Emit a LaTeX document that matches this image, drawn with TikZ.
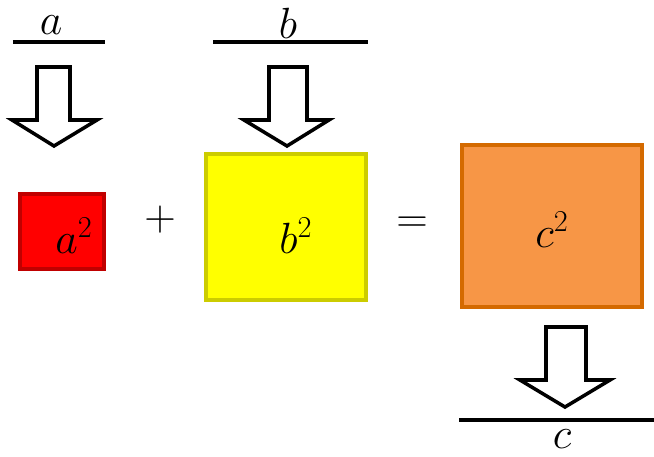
\documentclass[tikz,border=0pt]{standalone}
\usepackage{amsmath}
\usepackage{tikz}
\usetikzlibrary{positioning}
\definecolor{sqred}{RGB}{255,0,0}
\definecolor{sqredline}{RGB}{192,0,0}
\definecolor{sqyellow}{RGB}{255,255,0}
\definecolor{sqyellowline}{RGB}{204,204,0}
\definecolor{sqorange}{RGB}{247,150,70}
\definecolor{sqorangeline}{RGB}{212,106,0}
\tikzset{
  sidebar/.style={draw=black, line width=2.3pt},
  blockarrow/.style={draw=black, fill=white, line width=2pt, line join=miter},
  sqlabel/.style={inner sep=0pt, font=\fontsize{25}{30}\selectfont},
  oplabel/.style={inner sep=0pt, font=\fontsize{24}{28}\selectfont},
}

\begin{document}
\begin{tikzpicture}[x=0.02cm, y=-0.02cm]
  \useasboundingbox (0,0) rectangle (654,457);
  % side lengths
  \draw[sidebar] (13,42) -- (105,42);
  \node[sqlabel] (la) at (51,25) {$a$};
  \draw[sidebar] (213,42) -- (368,42);
  \node[sqlabel] (lb) at (288,23) {$b$};
  \draw[sidebar] (459,420) -- (654,420);
  \node[sqlabel] (lc) at (562,439) {$c$};
  % block arrows
  \draw[blockarrow] (37,67) -- (70,67) -- (70,120) -- (97,120) -- (54,146)
    -- (12,120) -- (37,120) -- cycle;
  \draw[blockarrow] (269,67) -- (307,67) -- (307,120) -- (329,120) -- (287,146)
    -- (244,120) -- (269,120) -- cycle;
  \draw[blockarrow] (546,327) -- (586,327) -- (586,380) -- (610,380) -- (565,407)
    -- (520,380) -- (546,380) -- cycle;
  % squares
  \draw[fill=sqred, draw=sqredline, line width=1.8pt] (20,194) rectangle (104,269);
  \node[sqlabel] (asq) at (74,236) {$a^2$};
  \draw[fill=sqyellow, draw=sqyellowline, line width=2.2pt] (206,154) rectangle (366,300);
  \node[sqlabel] (bsq) at (296,236) {$b^2$};
  \draw[fill=sqorange, draw=sqorangeline, line width=2.4pt] (462,145) rectangle (642,307);
  \node[sqlabel] (csq) at (552,230) {$c^2$};
  % operators
  \node[oplabel] (plus) at (160,220) {$+$};
  \node[oplabel] (eq) at (412,225) {$=$};
\end{tikzpicture}
\end{document}
